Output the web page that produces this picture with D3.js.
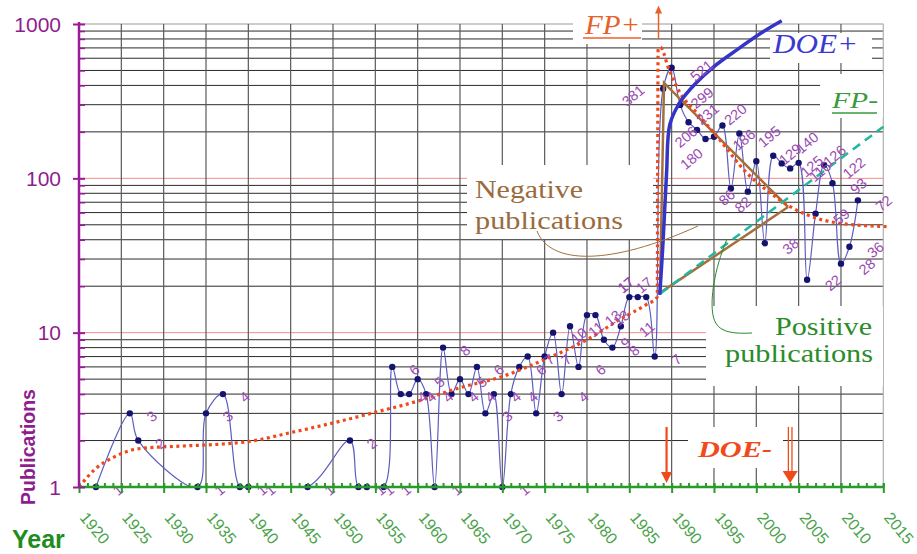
<!DOCTYPE html>
<html>
<head>
<meta charset="utf-8">
<script src="https://cdn.jsdelivr.net/npm/d3@7"></script>
<style>
  html, body { margin: 0; padding: 0; background: #fff; }
  svg { display: block; }
</style>
</head>
<body>
<svg id="chart" width="917" height="554"></svg>
<script>
// ---------------- DATA ----------------
const years = [1922,1926,1927,1934,1935,1937,1939,1940,1947,1952,1953,1954,1956,1957,1958,1959,1960,1961,1962,1963,1964,1965,1966,1967,1968,1969,1970,1971,1972,1973,1974,1975,1976,1977,1978,1979,1980,1981,1982,1983,1984,1985,1986,1987,1988,1989,1990,1991,1992,1993,1994,1995,1996,1997,1998,1999,2000,2001,2002,2003,2004,2005,2006,2007,2008,2009,2010,2011,2012];
const publications = [1,3,2,1,3,4,1,1,1,2,1,1,1,6,4,4,5,4,1,8,4,5,4,6,3,4,1,4,6,7,3,7,10,4,11,6,13,13,9,8,11,17,17,17,7,381,521,299,231,206,180,186,220,86,195,82,129,38,140,125,116,126,22,59,122,93,28,36,72];

// fitted trend (red dotted)
const trendYears  = [1920,1922,1924,1927,1932,1937,1940,1945,1950,1955,1960,1965,1970,1975,1980,1984,1987,1988.3,1988.35,1988.4,1988.7,1989.1,1989.5,1990,1991,1993,1995.7,1998.9,2001.2,2004,2006,2010,2015.8];
const trendValues = [1,1.32,1.55,1.77,1.84,1.9,1.97,2.25,2.6,3.05,3.6,4.4,5.2,6.7,9.0,12.3,15.2,17,120,690,705,640,540,465,357,265,177,108,84,65.6,58,51,48.6];

// DOE+ curve
const doeYears  = [1988.6,1989.0,1989.4,1989.8,1991.0,1992.8,1995.0,1997.7,2000.8,2003.0];
const doeValues = [17.6,40,108,225,312,410,530,680,890,1050];

// brown model lines
const posYears  = [1988.62,2003.75];
const posValues = [18.1,65.2];
const negYears  = [1988.62,1989.1,2003.75];
const negValues = [18.1,415,65.2];

// FP- dashed line
const fpmYears  = [1988.7,2015.0];
const fpmValues = [18,216];

// arrows (year, value from, value to)
const fpArrow   = {year:1988.45, from:800, to:1320};
const doeArrowA = {year:1989.4, from:2.45, to:1.06};
const doeArrowB = {year:2004.0, from:2.45, to:1.06};

const yTickValues = [1,10,100,1000];
const xTickYears = d3.range(1920,2016,5);

// ---------------- SCALES ----------------
const svg = d3.select('#chart');
const x = d3.scaleLinear().domain([1920,2015]).range([79,883.3]);
const y = d3.scaleLog().domain([1,1000]).range([487,24]);
const X0 = x(1920), X1 = x(2015), Y0 = y(1), Y1 = y(1000);

svg.append('rect').attr('width',917).attr('height',554).attr('fill','#fff');

// horizontal grid
const gridVals = [];
[1,10,100].forEach(d => { for (let m=1; m<=9; m++) if (!(d===1 && m===1)) gridVals.push(m*d); });
gridVals.push(1000);
svg.append('g').selectAll('line').data(gridVals).join('line')
  .attr('x1',X0).attr('x2',X1)
  .attr('y1',d=>y(d)).attr('y2',d=>y(d))
  .attr('stroke',d=> d===10||d===100 ? '#f08c8c' : (d===1000 ? '#999' : '#2a2a2a'))
  .attr('stroke-width',1);

// vertical grid
svg.append('g').selectAll('line').data(xTickYears.filter(v=>v>1920)).join('line')
  .attr('x1',d=>x(d)).attr('x2',d=>x(d)).attr('y1',Y1).attr('y2',Y0)
  .attr('stroke',d=> d===2015 ? '#b0b0b0' : '#5a5a5a').attr('stroke-width',1.2);

// white text boxes covering the grid
const boxes = [
  [467,165,186,74],[706,306,177,80],[573,5,69,39],[770,33,102,30],[820,74,63,44],[688,427,95,41]
];
svg.append('g').selectAll('rect').data(boxes).join('rect')
  .attr('x',d=>d[0]).attr('y',d=>d[1]).attr('width',d=>d[2]).attr('height',d=>d[3]).attr('fill','#fff');

// clip for the data line
svg.append('clipPath').attr('id','plotclip').append('rect')
  .attr('x',X0).attr('y',Y1-2).attr('width',X1-X0+10).attr('height',Y0-Y1+2);

// ---------------- DATA LINE ----------------
const pts = years.map((yr,i)=>[x(yr), y(publications[i])]);
svg.append('path').attr('d', d3.line().curve(d3.curveCatmullRom.alpha(0.5))(pts))
  .attr('fill','none').attr('stroke','#5d5dc0').attr('stroke-width',1.2)
  .attr('clip-path','url(#plotclip)');
svg.append('g').selectAll('circle').data(pts).join('circle')
  .attr('cx',d=>d[0]).attr('cy',d=>d[1]).attr('r',3.2).attr('fill','#141470');

// brown lines
const lineGen = d3.line().x(d=>x(d[0])).y(d=>y(d[1]));
svg.append('path').attr('d', lineGen(posYears.map((v,i)=>[v,posValues[i]])))
  .attr('fill','none').attr('stroke','#a3703c').attr('stroke-width',2.5);
svg.append('path').attr('d', lineGen(negYears.map((v,i)=>[v,negValues[i]])))
  .attr('fill','none').attr('stroke','#a3703c').attr('stroke-width',2.5);

// FP- teal dashed
svg.append('path').attr('d', lineGen(fpmYears.map((v,i)=>[v,fpmValues[i]])))
  .attr('fill','none').attr('stroke','#1fb8a0').attr('stroke-width',2.5).attr('stroke-dasharray','9,6');

// red dotted trend
svg.append('path').attr('d', d3.line().curve(d3.curveMonotoneX).x(d=>x(d[0])).y(d=>y(d[1]))(trendYears.map((v,i)=>[v,trendValues[i]])))
  .attr('fill','none').attr('stroke','#f04818').attr('stroke-width',3.2).attr('stroke-dasharray','3,3.5');

// DOE+ thick blue curve
svg.append('path').attr('d', d3.line().curve(d3.curveCatmullRom.alpha(0.5)).x(d=>x(d[0])).y(d=>y(d[1]))(doeYears.map((v,i)=>[v,doeValues[i]])))
  .attr('fill','none').attr('stroke','#3434c8').attr('stroke-width',3.5);

// ---------------- VALUE LABELS ----------------
const labelShift = {1985:[-3,-12],1986:[-12,-12],1987:[-2,-12],1989:[-30,7],1991:[22,-7],1992:[19,-8],1993:[-11,7],1994:[-14,20],1996:[13,-11],1997:[-4,9],1999:[-5,13],2000:[34,-7],2002:[34,-13],2005:[36,-7]};
svg.append('g').selectAll('text').data(years).join('text')
  .attr('transform',(yr,i)=>{
    const s = String(publications[i]);
    const sh = labelShift[yr] || [18+4*s.length, 3];
    return `translate(${pts[i][0]+sh[0]},${pts[i][1]+sh[1]}) rotate(-40)`;
  })
  .attr('text-anchor','middle').attr('dominant-baseline','central')
  .attr('font-family','Arial, Liberation Sans, sans-serif').attr('font-size',14.5)
  .attr('fill','#9a4ab2')
  .text((yr,i)=>publications[i]);

// ---------------- ANNOTATIONS ----------------
const serif = 'Liberation Serif, Times New Roman, serif';
function txt(t, xx, yy, len, size, color, style, weight){
  svg.append('text').attr('x',xx).attr('y',yy).attr('font-family',serif).attr('font-size',size)
    .attr('fill',color).attr('font-style',style||'normal').attr('font-weight',weight||'normal')
    .attr('textLength',len).attr('lengthAdjust','spacingAndGlyphs').text(t);
}
txt('Negative',475,198,108,26,'#9a6b3c');
txt('publications',475,229,148,26,'#9a6b3c');
txt('Positive',775,335,97,25,'#2a8c2a');
txt('publications',725,362,148,25,'#2a8c2a');
txt('FP+',585,34,55,27,'#e8602a','italic');
txt('DOE+',773,53,85,27,'#3a3ad0','italic');
txt('FP-',832,108,46,23,'#3a9a3a','italic');
txt('DOE-',698,457,74,23,'#f04a1a','italic','bold');
svg.append('line').attr('x1',583).attr('x2',641).attr('y1',38).attr('y2',38).attr('stroke','#e8602a').attr('stroke-width',1.5);
svg.append('line').attr('x1',832).attr('x2',877).attr('y1',113).attr('y2',113).attr('stroke','#3a9a3a').attr('stroke-width',1.5);

// callouts
svg.append('path').attr('d','M537,231 C550,265 610,266 698,226').attr('fill','none').attr('stroke','#a3703c').attr('stroke-width',1);
svg.append('path').attr('d','M727,239 C714,270 710,300 713,315 C716,332 730,334 752,333').attr('fill','none').attr('stroke','#2a8c2a').attr('stroke-width',1);

// arrows
function arrowDown(a, dbl){
  const ax = x(a.year), ya = y(a.from), yb = y(a.to);
  if (dbl){
    [-1.8,1.8].forEach(o=> svg.append('line').attr('x1',ax+o).attr('x2',ax+o).attr('y1',ya).attr('y2',yb-12).attr('stroke','#f04a1a').attr('stroke-width',1.3));
    svg.append('path').attr('d',`M${ax-7.5},${yb-12} L${ax+7.5},${yb-12} L${ax},${yb} Z`).attr('fill','#f04a1a');
  } else {
    svg.append('line').attr('x1',ax).attr('x2',ax).attr('y1',ya).attr('y2',yb-10).attr('stroke','#f04a1a').attr('stroke-width',2.2);
    svg.append('path').attr('d',`M${ax-5.5},${yb-11} L${ax+5.5},${yb-11} L${ax},${yb} Z`).attr('fill','#f04a1a');
  }
}
arrowDown(doeArrowA,false);
arrowDown(doeArrowB,true);
{
  const ax = x(fpArrow.year), ya = y(fpArrow.from), yb = y(fpArrow.to);
  svg.append('line').attr('x1',ax).attr('x2',ax).attr('y1',ya).attr('y2',yb+7).attr('stroke','#e8602a').attr('stroke-width',1.5);
  svg.append('path').attr('d',`M${ax-3.5},${yb+8} L${ax+3.5},${yb+8} L${ax},${yb} Z`).attr('fill','#e8602a');
}

// ---------------- AXES ----------------
// x axis (green)
const xAxisMinor = d3.axisBottom(x).tickValues(d3.range(1920,2016,1)).tickSize(-4).tickFormat('');
const gMinor = svg.append('g').attr('transform',`translate(0,${Y0})`).call(xAxisMinor);
gMinor.selectAll('.tick line').attr('stroke','#2a9a2a').attr('stroke-width',2);
gMinor.select('.domain').remove();
const xAxis = d3.axisBottom(x).tickValues(xTickYears).tickSize(6).tickFormat('');
const gx = svg.append('g').attr('transform',`translate(0,${Y0})`).call(xAxis);
gx.selectAll('.tick line').attr('stroke','#2a9a2a').attr('stroke-width',2).attr('y1',-4);
gx.select('.domain').attr('stroke','#2a9a2a').attr('stroke-width',2.5).attr('d',`M${X0},0H${X1}`);
svg.append('g').selectAll('text').data(xTickYears).join('text')
  .attr('transform',d=>`translate(${x(d)},518) rotate(50)`)
  .attr('font-family','Arial, Liberation Sans, sans-serif').attr('font-size',16)
  .attr('fill','#4aa24a').text(d=>d);
svg.append('text').attr('x',12).attr('y',548).attr('font-family','Arial, Liberation Sans, sans-serif')
  .attr('font-size',25).attr('font-weight','bold').attr('fill','#1e8c1e').text('Year');

// y axis (purple)
const yMinorVals = gridVals.filter(v=>!yTickValues.includes(v));
const gyMinor = svg.append('g').attr('transform',`translate(${X0},0)`).call(d3.axisRight(y).tickValues(yMinorVals).tickSize(6).tickFormat(''));
gyMinor.selectAll('.tick line').attr('stroke','#9a1a9a').attr('stroke-width',1.5);
gyMinor.select('.domain').remove();
const gy = svg.append('g').attr('transform',`translate(${X0},0)`).call(d3.axisLeft(y).tickValues(yTickValues).tickSize(6).tickFormat(''));
gy.selectAll('.tick line').attr('stroke','#9a1a9a').attr('stroke-width',2).attr('x2',-6).attr('x1',6);
gy.select('.domain').attr('stroke','#9a1a9a').attr('stroke-width',2.5).attr('d',`M0,${Y1-2}V${Y0}`);
svg.append('g').selectAll('text').data(yTickValues).join('text')
  .attr('x',61).attr('y',d=>y(d)).attr('dy','0.36em').attr('text-anchor','end')
  .attr('font-family','Arial, Liberation Sans, sans-serif').attr('font-size',21)
  .attr('fill','#8e1e8e').text(d=>d);
svg.append('text').attr('transform','translate(35,447) rotate(-90)').attr('text-anchor','middle')
  .attr('font-family','Arial, Liberation Sans, sans-serif').attr('font-size',19.5).attr('font-weight','bold')
  .attr('fill','#8e1e8e').text('Publications');
</script>
</body>
</html>
